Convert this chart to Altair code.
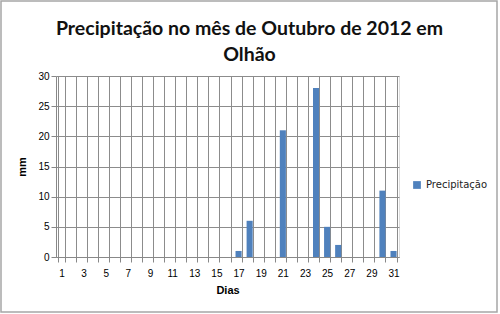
import altair as alt
import pandas as pd

days = list(range(1, 32))
precip = [0]*16 + [1, 6, 0, 0, 21, 0, 0, 28, 5, 2, 0, 0, 0, 11, 1]
series = ["Precipitação"] * 31

df = pd.DataFrame({"Dia": [str(d) for d in days], "mm": precip, "serie": series})

W, H = 343, 181

bars = alt.Chart(df).mark_bar(color="#4F81BD").encode(
    x=alt.X("Dia:N", sort=[str(d) for d in days],
            scale=alt.Scale(paddingInner=0.45, paddingOuter=0.22),
            axis=alt.Axis(title="Dias", labelAngle=0, tickBand="extent",
                          labelExpr="toNumber(datum.value) % 2 == 1 ? datum.label : ''",
                          grid=True, gridColor="#8c8c8c", labelPadding=6,
                          titlePadding=6)),
    y=alt.Y("mm:Q", scale=alt.Scale(domain=[0, 30]),
            axis=alt.Axis(title="mm", values=[0, 5, 10, 15, 20, 25, 30],
                          grid=True, gridColor="#8c8c8c", titlePadding=10)),
    fill=alt.Fill("serie:N", scale=alt.Scale(range=["#4F81BD"]),
                  legend=alt.Legend(title=None, orient="none", legendX=356, legendY=104,
                                    symbolType="square", symbolSize=60,
                                    labelFont="DejaVu Sans", labelFontSize=10,
                                    labelColor="#222222")),
)

frame = alt.Chart(pd.DataFrame({"a": [0]})).mark_rect(
    fill=None, stroke="#a6a6a6", strokeWidth=1.5).encode(
    x=alt.value(-55), x2=alt.value(W + 98), y=alt.value(-75), y2=alt.value(H + 55))

chart = alt.layer(bars, frame).properties(
    width=W, height=H,
    autosize=alt.AutoSizeParams(type="none"),
    padding={"left": 56, "top": 76, "right": 101, "bottom": 57},
    title=alt.Title(["Precipitação no mês de Outubro de 2012 em", "Olhão"],
                    anchor="middle", dx=22, dy=77, offset=12, font="Lato",
                    fontSize=19.5, fontWeight="bold", color="#111111", lineHeight=26),
).configure_view(stroke="#8c8c8c").configure_axis(
    labelFont="DejaVu Sans", labelFontSize=10, labelColor="#222222",
    titleFont="DejaVu Sans", titleFontSize=10, titleFontWeight="bold", titleColor="#222222",
    domainColor="#8c8c8c", tickColor="#8c8c8c",
).configure(background="white")

chart.save("out.html", embed_options={"renderer": "svg", "actions": False})
